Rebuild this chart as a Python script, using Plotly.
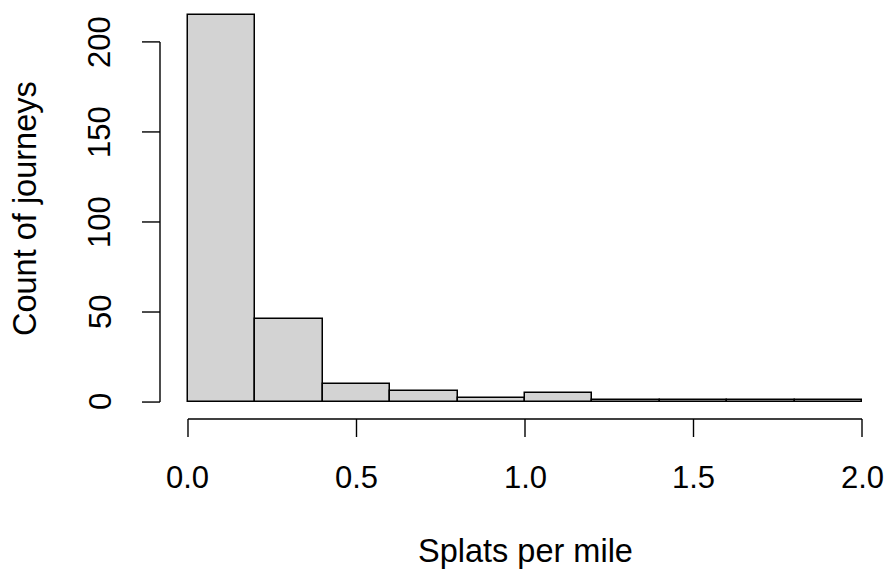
import plotly.graph_objects as go

# ---- data ----
bin_edges = [0.0, 0.2, 0.4, 0.6, 0.8, 1.0, 1.2, 1.4, 1.6, 1.8, 2.0]
counts = [215, 46, 10, 6, 2, 5, 1, 1, 1, 1]
x_ticks = [0.0, 0.5, 1.0, 1.5, 2.0]
x_tick_labels = ["0.0", "0.5", "1.0", "1.5", "2.0"]
y_ticks = [0, 50, 100, 150, 200]
y_tick_labels = ["0", "50", "100", "150", "200"]
x_title = "Splats per mile"
y_title = "Count of journeys"

# ---- layout geometry ----
W, H = 889, 573
ML, MR, MT, MB = 161, 0, 0, 155
XR = [-0.0801, 2.0801]
YR = [-8.86, 223.27]
PW = W - ML - MR
PH = H - MT - MB
FONT = "Liberation Sans, Arial, sans-serif"
FS = 31
FS_TITLE = 32.5


def xp(v):
    return (v - XR[0]) / (XR[1] - XR[0])


def yp(v):
    return (v - YR[0]) / (YR[1] - YR[0])


def px_to_paper_x(px):
    return (px - ML) / PW


def px_to_paper_y(py):
    return (MT + PH - py) / PH


centers = [(bin_edges[i] + bin_edges[i + 1]) / 2 for i in range(len(counts))]
widths = [bin_edges[i + 1] - bin_edges[i] for i in range(len(counts))]

fig = go.Figure(
    go.Bar(
        x=centers,
        y=counts,
        width=widths,
        marker=dict(color="#d3d3d3", line=dict(color="black", width=1.5)),
        hoverinfo="skip",
    )
)

shapes = []
annotations = []

# x axis (R style, offset below plot)
y_axis_line = px_to_paper_y(419)
y_tick_end = px_to_paper_y(437)
shapes.append(dict(type="line", xref="paper", yref="paper",
                   x0=xp(x_ticks[0]), x1=xp(x_ticks[-1]), y0=y_axis_line, y1=y_axis_line,
                   line=dict(color="black", width=1.4)))
for t, lab in zip(x_ticks, x_tick_labels):
    shapes.append(dict(type="line", xref="paper", yref="paper",
                       x0=xp(t), x1=xp(t), y0=y_axis_line, y1=y_tick_end,
                       line=dict(color="black", width=1.4)))
    annotations.append(dict(xref="paper", yref="paper", x=xp(t), y=px_to_paper_y(477),
                            text=lab, showarrow=False, xanchor="center", yanchor="middle",
                            font=dict(family=FONT, size=FS, color="black")))

# y axis
x_axis_line = px_to_paper_x(160)
x_tick_end = px_to_paper_x(142)
shapes.append(dict(type="line", xref="paper", yref="paper",
                   x0=x_axis_line, x1=x_axis_line, y0=yp(y_ticks[0]), y1=yp(y_ticks[-1]),
                   line=dict(color="black", width=1.4)))
for t, lab in zip(y_ticks, y_tick_labels):
    shapes.append(dict(type="line", xref="paper", yref="paper",
                       x0=x_axis_line, x1=x_tick_end, y0=yp(t), y1=yp(t),
                       line=dict(color="black", width=1.4)))
    annotations.append(dict(xref="paper", yref="paper", x=px_to_paper_x(100), y=yp(t),
                            text=lab, showarrow=False, xanchor="center", yanchor="middle",
                            textangle=-90,
                            font=dict(family=FONT, size=FS, color="black")))

# axis titles
annotations.append(dict(xref="paper", yref="paper", x=0.5, y=px_to_paper_y(551),
                        text=x_title, showarrow=False, xanchor="center", yanchor="middle",
                        font=dict(family=FONT, size=FS_TITLE, color="black")))
annotations.append(dict(xref="paper", yref="paper", x=px_to_paper_x(25), y=0.5,
                        text=y_title, showarrow=False, xanchor="center", yanchor="middle",
                        textangle=-90,
                        font=dict(family=FONT, size=FS_TITLE, color="black")))

fig.update_layout(
    width=W, height=H,
    margin=dict(l=ML, r=MR, t=MT, b=MB, pad=0),
    paper_bgcolor="white", plot_bgcolor="white",
    showlegend=False, bargap=0,
    xaxis=dict(range=XR, visible=False, fixedrange=True),
    yaxis=dict(range=YR, visible=False, fixedrange=True),
    shapes=shapes, annotations=annotations,
)

fig.write_html("out.html")
